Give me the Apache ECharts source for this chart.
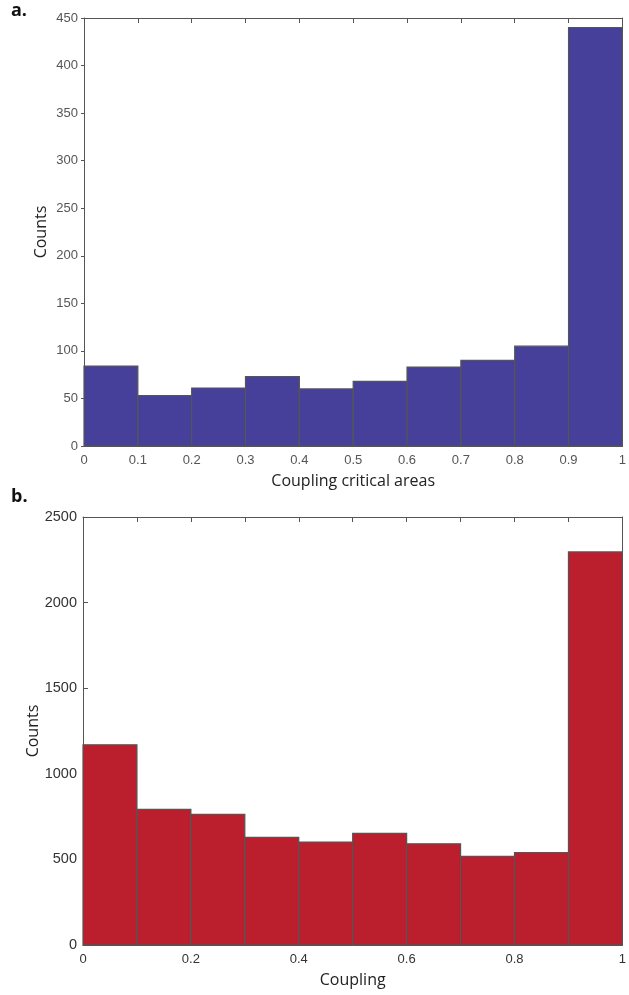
<!DOCTYPE html>
<html>
<head>
<meta charset="utf-8">
<script src="https://cdn.jsdelivr.net/npm/echarts@6/dist/echarts.min.js"></script>
<style>
html,body{margin:0;padding:0;background:#fff;}
#main{width:629px;height:995px;}
</style>
</head>
<body>
<div id="main"></div>
<script>
// ---- data ----
const binEdges = [0, 0.1, 0.2, 0.3, 0.4, 0.5, 0.6, 0.7, 0.8, 0.9, 1.0];
const countsA = [84, 53, 61, 73, 60, 68, 83, 90, 105, 440];
const countsB = [1169, 792, 763, 629, 601, 652, 591, 518, 539, 2296];
const xLabelA = 'Coupling critical areas';
const xLabelB = 'Coupling';
const yLabel = 'Counts';
const panelA = 'a.';
const panelB = 'b.';

function binData(counts) {
  return counts.map((c, i) => [binEdges[i], binEdges[i + 1], c]);
}

const axisCol = '#555';
const fontFam = 'Liberation Sans, Arial, sans-serif';
const nameFont = { color: '#222', fontSize: 16, fontFamily: 'Open Sans, sans-serif' };

function makeRender(fill) {
  return function (params, api) {
    const p0 = api.coord([api.value(0), api.value(2)]);
    const p1 = api.coord([api.value(1), 0]);
    return {
      type: 'rect',
      shape: { x: p0[0], y: p0[1], width: p1[0] - p0[0], height: p1[1] - p0[1] },
      style: { fill: fill, stroke: '#555', lineWidth: 1.2 }
    };
  };
}

function xAxes(gridIndex, name, labelEvery2, font) {
  return [
    {
      type: 'value', gridIndex: gridIndex, min: 0, max: 1, interval: 0.1, position: 'bottom',
      name: name, nameLocation: 'middle', nameGap: 27, nameMoveOverlap: false, nameTextStyle: nameFont,
      axisLine: { show: true, onZero: false, lineStyle: { color: axisCol, width: 1 } },
      axisTick: { show: true, inside: true, length: 5, lineStyle: { color: axisCol } },
      axisLabel: Object.assign({ margin: 8, showMinLabel: true, showMaxLabel: true,
        formatter: function (v) {
          const r = Math.round(v * 10);
          if (labelEvery2 && r % 2 !== 0) return '';
          if (r === 0) return '0';
          if (r === 10) return '1';
          return (r / 10).toString();
        } }, font),
      splitLine: { show: false }
    },
    {
      type: 'value', gridIndex: gridIndex, min: 0, max: 1, interval: 0.1, position: 'top',
      axisLine: { show: true, onZero: false, lineStyle: { color: axisCol, width: 1 } },
      axisTick: { show: true, inside: true, length: 5, lineStyle: { color: axisCol } },
      axisLabel: { show: false },
      splitLine: { show: false }
    }
  ];
}

function yAxes(gridIndex, max, interval, gap, font, tickInside) {
  return [
    {
      type: 'value', gridIndex: gridIndex, min: 0, max: max, interval: interval, position: 'left',
      name: yLabel, nameLocation: 'middle', nameGap: gap, nameMoveOverlap: false, nameTextStyle: nameFont,
      axisLine: { show: true, onZero: false, lineStyle: { color: axisCol, width: 1 } },
      axisTick: { show: true, inside: tickInside, length: tickInside ? 5 : 3, lineStyle: { color: axisCol } },
      axisLabel: Object.assign({ margin: 6, formatter: function (v) { return String(v); } }, font),
      splitLine: { show: false }
    },
    {
      type: 'value', gridIndex: gridIndex, min: 0, max: max, interval: interval, position: 'right',
      axisLine: { show: true, onZero: false, lineStyle: { color: axisCol, width: 1 } },
      axisTick: { show: true, inside: true, length: 5, lineStyle: { color: axisCol } },
      axisLabel: { show: false },
      splitLine: { show: false }
    }
  ];
}

const fontA = { color: '#555', fontSize: 13, fontFamily: fontFam };
const fontBx = { color: '#333', fontSize: 13, fontFamily: fontFam };
const fontBy = { color: '#333', fontSize: 14.5, fontFamily: fontFam };

const chart = echarts.init(document.getElementById('main'), null, { renderer: 'canvas' });
chart.setOption({
  animation: false,
  backgroundColor: '#fff',
  grid: [
    { left: 84, right: 3, top: 18, height: 428 },
    { left: 83, right: 3, top: 517, height: 428 }
  ],
  xAxis: xAxes(0, xLabelA, false, fontA).concat(xAxes(1, xLabelB, true, fontBx)),
  yAxis: yAxes(0, 450, 50, 35, fontA, false).concat(yAxes(1, 2500, 500, 42, fontBy, true)),
  graphic: [
    { type: 'text', left: 11, top: 2, style: { text: panelA, font: 'bold 18px "Open Sans", sans-serif', fill: '#111' } },
    { type: 'text', left: 11, top: 488, style: { text: panelB, font: 'bold 18px "Open Sans", sans-serif', fill: '#111' } }
  ],
  series: [
    {
      type: 'custom', xAxisIndex: 0, yAxisIndex: 0,
      renderItem: makeRender('#46409A'),
      encode: { x: [0, 1], y: 2 },
      data: binData(countsA), z: 1
    },
    {
      type: 'custom', xAxisIndex: 2, yAxisIndex: 2,
      renderItem: makeRender('#BB1E2D'),
      encode: { x: [0, 1], y: 2 },
      data: binData(countsB), z: 1
    }
  ]
});
</script>
</body>
</html>
